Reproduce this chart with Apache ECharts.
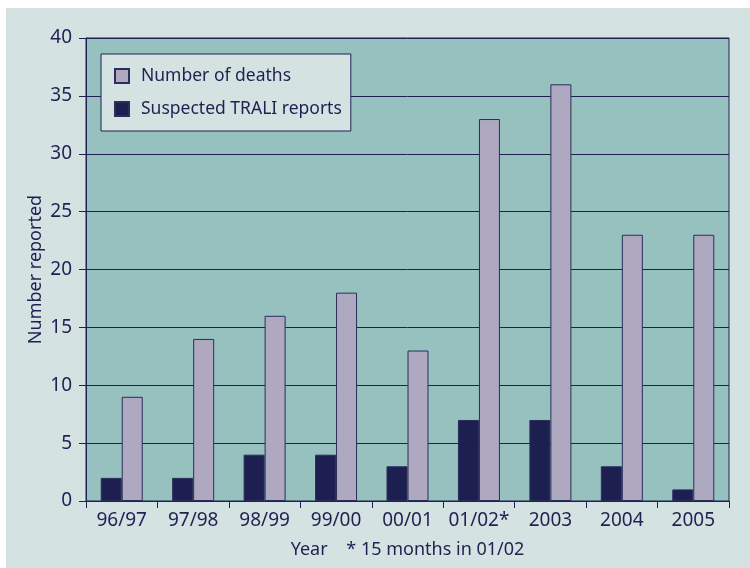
<!DOCTYPE html>
<html>
<head>
<meta charset="utf-8">
<script src="https://cdn.jsdelivr.net/npm/echarts@6/dist/echarts.min.js"></script>
<style>
  html, body { margin: 0; padding: 0; background: #ffffff; }
  #chart { position: absolute; left: 6px; top: 8px; width: 744px; height: 560px; }
</style>
</head>
<body>
<div id="chart"></div>
<script>
// 年度
var years = ['96/97', '97/98', '98/99', '99/00', '00/01', '01/02*', '2003', '2004', '2005'];
var deaths = [9, 14, 16, 18, 13, 33, 36, 23, 23];
var traliReports = [2, 2, 4, 4, 3, 7, 7, 3, 1];
var yTicks = { min: 0, max: 40, interval: 5 };

var ink = '#1e2152';
var font = 'Noto Sans';

var chart = echarts.init(document.getElementById('chart'));
chart.setOption({
  backgroundColor: '#d4e2e2',
  animation: false,
  textStyle: { fontFamily: font, color: ink },
  grid: {
    left: 80,
    top: 30,
    right: 21,
    bottom: 67,
    show: true,
    backgroundColor: '#96c1bf',
    borderColor: ink,
    borderWidth: 1
  },
  legend: {
    data: ['Number of deaths', 'Suspected TRALI reports'],
    orient: 'vertical',
    left: 95,
    top: 46,
    padding: [12, 9, 12, 13],
    itemGap: 13,
    itemWidth: 14,
    itemHeight: 14,
    icon: 'rect',
    backgroundColor: '#d4e2e2',
    borderColor: ink,
    borderWidth: 1,
    textStyle: { fontFamily: font, fontSize: 17.5, color: ink, lineHeight: 20, padding: [0, 0, 0, 7] }
  },
  xAxis: {
    type: 'category',
    data: years,
    name: 'Year    * 15 months in 01/02',
    nameLocation: 'middle',
    nameGap: 40,
    nameTextStyle: { fontFamily: font, fontSize: 18, color: ink },
    axisLine: { lineStyle: { color: ink, width: 1 } },
    axisTick: { show: true, inside: false, length: 7, lineStyle: { color: ink } },
    axisLabel: { interval: 0, fontFamily: font, fontSize: 19, color: ink, margin: 10 }
  },
  yAxis: {
    type: 'value',
    min: yTicks.min,
    max: yTicks.max,
    interval: yTicks.interval,
    name: 'Number reported',
    nameLocation: 'middle',
    nameGap: 41,
    nameMoveOverlap: false,
    nameTextStyle: { fontFamily: font, fontSize: 18, color: ink },
    axisLine: { show: true, lineStyle: { color: ink, width: 1 } },
    axisTick: { show: true, inside: false, length: 7, lineStyle: { color: ink } },
    axisLabel: { fontFamily: font, fontSize: 19, color: ink, margin: 14 },
    splitLine: { show: true, lineStyle: { color: ink, width: 1 } }
  },
  series: [
    {
      name: 'Suspected TRALI reports',
      type: 'bar',
      data: traliReports,
      barWidth: 21,
      barGap: '0%',
      itemStyle: { color: '#1c1f50', borderColor: '#2b2d5a', borderWidth: 1 }
    },
    {
      name: 'Number of deaths',
      type: 'bar',
      data: deaths,
      barWidth: 21,
      barGap: '0%',
      itemStyle: { color: '#aea9c0', borderColor: '#2b2d5a', borderWidth: 1 }
    }
  ]
});
</script>
</body>
</html>
